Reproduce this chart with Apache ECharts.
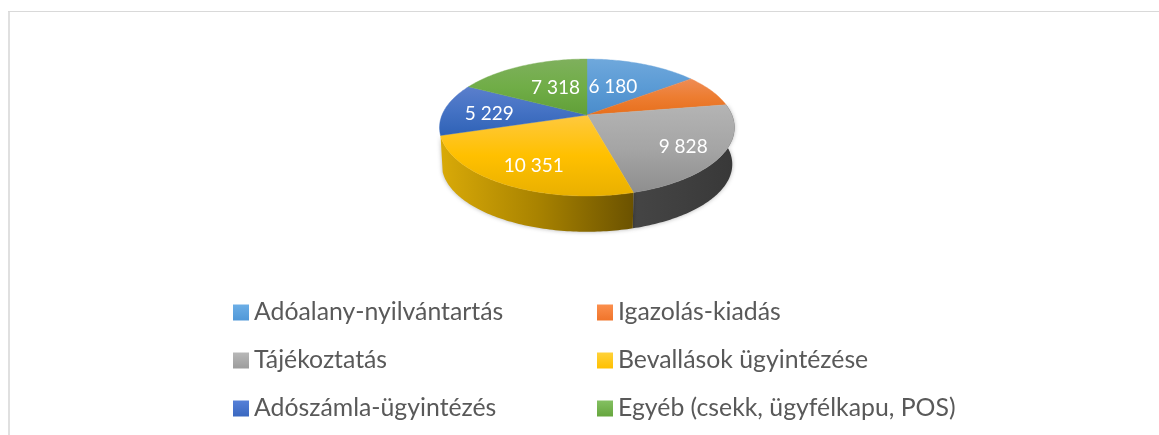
<!DOCTYPE html>
<html><head><meta charset="utf-8">
<style>html,body{margin:0;padding:0;background:#fff}#c{width:1159px;height:435px}</style>
<script src="https://cdn.jsdelivr.net/npm/echarts@6/dist/echarts.min.js"></script>
</head><body><div id="c"></div>
<script>
// ---- data ----
const categories = ['Adóalany-nyilvántartás','Igazolás-kiadás','Tájékoztatás','Bevallások ügyintézése','Adószámla-ügyintézés','Egyéb (csekk, ügyfélkapu, POS)'];
const values = [6180, 3300, 9828, 10351, 5229, 7318];
const showLabel = [true, false, true, true, true, true];

// ---- styling and layout ----
const topStops = [
  ['#6fa8dc','#5b9bd5','#4a8ccb'],
  ['#ef8c55','#ed7d31','#e76f1c'],
  ['#b4b4b4','#a5a5a5','#8e8e8e'],
  ['#ffc93f','#ffc000','#e9b000'],
  ['#5b7fcc','#4472c4','#2f62b6'],
  ['#7fb05d','#70ad47','#619f38']
];
const wallStops = [null, null, ['#454545','#3f3f3f','#383838'], ['#d9aa08','#a98300','#6b5200'], null, null];
const legendStops = [
  ['#6caee6','#5098d8'],['#fb8f4d','#f0742a'],['#b8b8b8','#9c9c9c'],
  ['#ffd23a','#ffc000'],['#5680d8','#3a68c0'],['#84c062','#66a63e']
];
const labelTune = [{r:.51,da:-4},null,{r:.745,da:2},{r:.74,da:-3},{r:.68,da:-2},{r:.515,da:4}];
const G = {cx:587, cy:115, a:145, b:66.2, k:.1825, depth:37, shrink:.985, labelDy:1};

const total = values.reduce((s,v)=>s+v,0);
function project(deg, r, bottom){
  const t = deg*Math.PI/180, X = r*Math.sin(t), Y = -r*Math.cos(t), w = 1-G.k*Y;
  const s = bottom ? G.shrink : 1, d = bottom ? G.depth : 0;
  return [G.cx + s*G.a*X/w, G.cy + d + s*G.b*Y/w];
}
function arc(a0,a1,bottom){
  const pts=[], n=Math.max(2,Math.ceil((a1-a0)/1));
  for(let i=0;i<=n;i++) pts.push(project(a0+(a1-a0)*i/n,1,bottom));
  return pts;
}
function grad(x2,y2,st){
  return new echarts.graphic.LinearGradient(0,0,x2,y2,st.map((c,i)=>({offset:i/(st.length-1),color:c})));
}
const fmt = v => String(v).replace(/\B(?=(\d{3})+$)/g,' ');
const starts = []; values.reduce((acc,v,i)=>{starts[i]=acc; return acc+v/total*360;},0);

function makeRender(i){
  return function(params, api){
    const a0 = starts[i], a1 = a0 + api.value(0)/total*360, kids = [];
    if(wallStops[i]){
      const top = arc(a0,a1,false), bot = arc(a0,a1,true).reverse();
      kids.push({type:'polygon',z2:1,shape:{points:top.concat(bot)},
        style:{fill:grad(1,0,wallStops[i]),shadowBlur:4,shadowColor:'rgba(0,0,0,.3)'}});
    }
    const fill = grad(0,1,topStops[i]);
    kids.push({type:'polygon',z2:10,shape:{points:[project(0,0)].concat(arc(a0,a1,false))},
      style:{fill:fill,stroke:fill,lineWidth:.4}});
    if(showLabel[i]){
      const t = labelTune[i], p = project((a0+a1)/2+t.da,t.r);
      kids.push({type:'text',z2:20,x:p[0],y:p[1]+G.labelDy,
        style:{text:fmt(api.value(0)),fill:'#fff',font:'19px Lato',align:'center',verticalAlign:'middle'}});
    }
    return {type:'group',children:kids};
  };
}
const series = categories.map((name,i)=>({
  type:'custom',name:name,coordinateSystem:'none',silent:true,animation:false,
  itemStyle:{color:grad(0,1,legendStops[i])},
  renderItem:makeRender(i),data:[[values[i]]]
}));
const legendBase = {orient:'vertical',icon:'rect',itemWidth:16,itemHeight:16,itemGap:23,top:300,padding:0,
  selectedMode:false,textStyle:{color:'#595959',fontFamily:'Lato',fontSize:24.8}};
const chart = echarts.init(document.getElementById('c'),null,{renderer:'canvas'});
chart.setOption({
  backgroundColor:'#fff',animation:false,
  legend:[
    Object.assign({},legendBase,{left:233,data:[categories[0],categories[2],categories[4]]}),
    Object.assign({},legendBase,{left:597,data:[categories[1],categories[3],categories[5]]})
  ],
  graphic:[
    {type:'rect',silent:true,shape:{x:8,y:11,width:2,height:424},style:{fill:'#e0e0e0'}},
    {type:'rect',silent:true,shape:{x:8,y:11,width:1151,height:1},style:{fill:'#d9d9d9'}}
  ],
  series:series
});
</script></body></html>
